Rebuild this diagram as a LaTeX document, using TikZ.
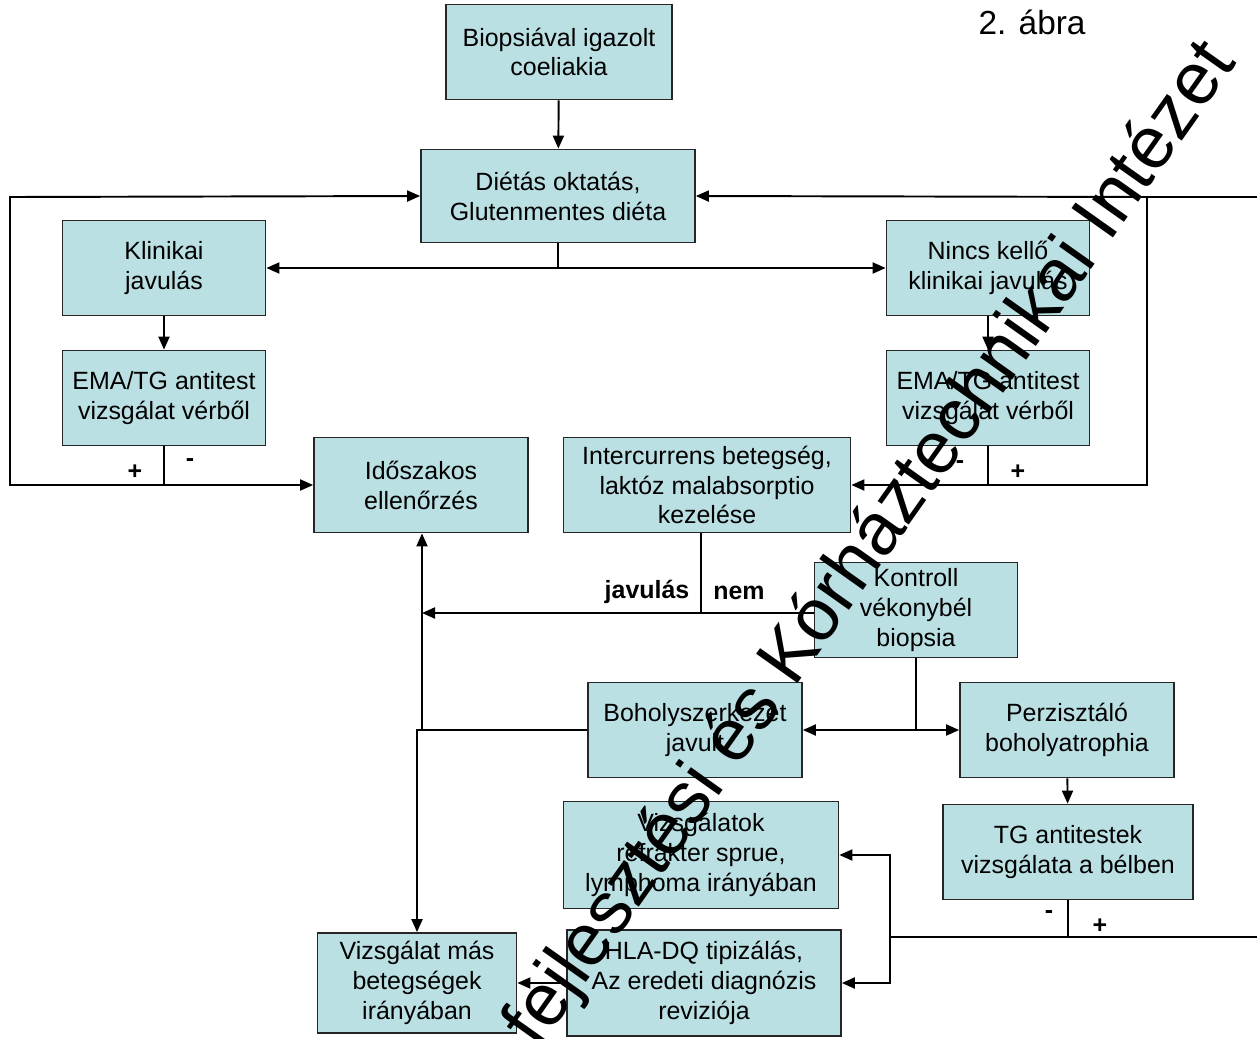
\documentclass[tikz,border=0pt]{standalone}
\usepackage{fontspec}
\setmainfont{Liberation Sans}
\usetikzlibrary{arrows.meta}
\definecolor{boxfill}{RGB}{187,224,227}

\begin{document}
\begin{tikzpicture}[x=0.02cm,y=-0.02cm,
    box/.style={draw=black!85,line width=1pt,fill=boxfill,align=center,inner sep=0pt,
        minimum width=4.06cm,minimum height=1.9cm,font=\fontsize{14.2pt}{17pt}\selectfont},
    conn/.style={line width=1.1pt,-{Triangle[length=0.26cm,width=0.22cm]}},
    wire/.style={line width=1.1pt},
    sign/.style={font=\fontsize{14.2pt}{17pt}\selectfont\bfseries}]
    \useasboundingbox (0,0) rectangle (1257,1038);

    \node [box,minimum width=4.52cm] (bio) at (559,52) {Biopsiával igazolt\\coeliakia};
    \node [box,minimum width=5.48cm,minimum height=1.86cm] (diet) at (558,196) {Diétás oktatás,\\Glutenmentes diéta};
    \node [box] (klin) at (164,268) {Klinikai\\javulás};
    \node [box] (nincs) at (988,268) {Nincs kellő\\klinikai javulás};
    \node [box] (emaL) at (164,398) {EMA/TG antitest\\vizsgálat vérből};
    \node [box] (emaR) at (988,398) {EMA/TG antitest\\vizsgálat vérből};
    \node [box,minimum width=4.28cm] (idosz) at (421,485) {Időszakos\\ellenőrzés};
    \node [box,minimum width=5.74cm] (inter) at (707,485) {Intercurrens betegség,\\laktóz malabsorptio\\kezelése};
    \node [box] (kontr) at (916,610) {Kontroll\\vékonybél\\biopsia};
    \node [box,minimum width=4.28cm] (bohol) at (695,730) {Boholyszerkezet\\javult};
    \node [box,minimum width=4.28cm] (perz) at (1067,730) {Perzisztáló\\boholyatrophia};
    \node [box,minimum width=5.5cm,minimum height=2.14cm] (vizsg) at (701,855) {Vizsgálatok\\refrakter sprue,\\lymphoma irányában};
    \node [box,minimum width=5cm] (tg) at (1068,852) {TG antitestek\\vizsgálata a bélben};
    \node [box,minimum width=3.98cm,minimum height=2cm] (masb) at (417,983) {Vizsgálat más\\betegségek\\irányában};
    \node [box,minimum width=5.48cm,minimum height=2.12cm] (hla) at (704,983) {HLA-DQ tipizálás,\\Az eredeti diagnózis\\reviziója};

    \node (abra) at (1032,22) {\fontsize{19pt}{23pt}\selectfont 2. ábra};

    \coordinate (dj) at (558,268);
    \coordinate (lj) at (164,485);
    \coordinate (rj) at (988,485);
    \coordinate (rtop) at (1147,197);
    \coordinate (edgeT) at (1262,197);
    \coordinate (kj) at (701,613);
    \coordinate (ij) at (422,613);
    \coordinate (bj) at (422,730);
    \coordinate (kb) at (916,730);
    \coordinate (tj) at (1068,937);
    \coordinate (vj) at (890,937);
    \coordinate (edgeB) at (1262,937);

    \draw [conn] (bio) -- (diet);
    \draw [wire] (diet.south) -- (dj);
    \draw [conn] (dj) -- (klin.east);
    \draw [conn] (dj) -- (nincs.west);
    \draw [conn] (klin) -- (emaL);
    \draw [conn] (nincs) -- (emaR);

    \draw [wire] (emaL.south) -- (lj);
    \draw [conn] (lj) -- (idosz.west);
    \draw [conn] (lj) -| (10,197) -- (diet.west);
    \node [sign] (plusL) at (135,472) {+};
    \node [sign] (minusL) at (190,463) {-};

    \draw [wire] (emaR.south) -- (rj);
    \draw [conn] (rj) -- (inter.east);
    \draw [conn] (rj) -| (rtop) -- (diet.east);
    \draw [wire] (rtop) -- (edgeT);
    \node [sign] (minusR) at (960,465) {-};
    \node [sign] (plusR) at (1018,472) {+};

    \draw [wire] (kj |- inter.south) -- (kj);
    \draw [conn] (kontr.west |- kj) -- (ij);
    \node [sign] (jav) at (647,592) {javulás};
    \node [sign] (nem) at (739,593) {nem};

    \draw [conn] (bj) -- (bj |- idosz.south);
    \draw [conn] (bohol.west) -- (417,730) -- (masb.north);

    \draw [wire] (kontr.south) -- (kb);
    \draw [conn] (kb) -- (bohol.east);
    \draw [conn] (kb) -- (perz.west);
    \draw [conn] (perz) -- (tg);

    \draw [wire] (tg.south) -- (tj);
    \draw [wire] (tj) -- (vj);
    \draw [wire] (tj) -- (edgeB);
    \draw [conn] (vj) |- (vizsg.east);
    \draw [conn] (vj) |- (hla.east);
    \node [sign] (minusT) at (1049,915) {-};
    \node [sign] (plusT) at (1100,926) {+};

    \draw [conn] (hla.west) -- (masb.east);

    \node [rotate=54.7,font=\fontsize{42pt}{50pt}\selectfont] (wm) at (872,545) {fejlesztési és Kórháztechnikai Intézet};
\end{tikzpicture}
\end{document}
